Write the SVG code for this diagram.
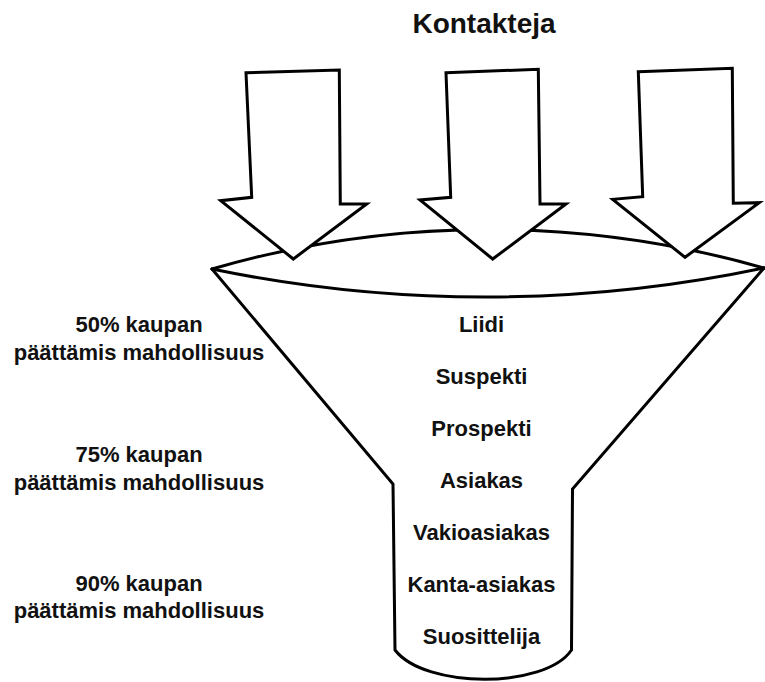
<svg xmlns="http://www.w3.org/2000/svg" width="765" height="682" viewBox="0 0 765 682">
<style>
.ln{fill:none;stroke:#000;stroke-width:3;stroke-linejoin:miter;stroke-linecap:round}
.ar{fill:#fff;stroke:#000;stroke-width:3;stroke-linejoin:miter}
.t{font-family:"Liberation Sans",Arial,sans-serif;font-weight:bold;font-size:22px;fill:#111;text-anchor:middle}
.title{font-size:28px}
</style>
<rect width="765" height="682" fill="#fff"/>
<g id="title"><text class="t title" x="484" y="33">Kontakteja</text></g>
<g id="funnel">
<path class="ln" d="M212,269 L393,484 L395,650 C425,689 545,689 571.5,650 L572.5,489 L764,268"/>
<path class="ln" d="M212,269 A1350 1350 0 0 0 764,268"/>
<path class="ln" d="M212,269 A996 996 0 0 1 764,268"/>
</g>
<g id="connectors">
<polygon id="arrow-1" class="ar" points="246,72.7 339.3,70 340.3,204 366.7,204 293.3,259 220.7,200.7 251.7,197.3"/>
<polygon id="arrow-2" class="ar" points="446,72.7 538.3,69.3 540,204 566,204 492.7,259 420,200 450.7,197.3"/>
<polygon id="arrow-3" class="ar" points="638.3,71.7 732.3,68.3 733.3,203.3 759.3,202.7 685,257.3 612.7,199.3 642.7,196.7"/>
</g>
<g id="stages">
<g id="stage-liidi"><text class="t" x="481.5" y="332">Liidi</text></g>
<g id="stage-suspekti"><text class="t" x="481.5" y="384">Suspekti</text></g>
<g id="stage-prospekti"><text class="t" x="481.5" y="436">Prospekti</text></g>
<g id="stage-asiakas"><text class="t" x="481.5" y="488">Asiakas</text></g>
<g id="stage-vakioasiakas"><text class="t" x="481.5" y="540">Vakioasiakas</text></g>
<g id="stage-kanta-asiakas"><text class="t" x="481.5" y="592">Kanta-asiakas</text></g>
<g id="stage-suosittelija"><text class="t" x="481.5" y="644">Suosittelija</text></g>
</g>
<g id="probabilities">
<g id="prob-50"><text class="t" x="139" y="332">50% kaupan</text><text class="t" x="139" y="360">päättämis mahdollisuus</text></g>
<g id="prob-75"><text class="t" x="139" y="462">75% kaupan</text><text class="t" x="139" y="490">päättämis mahdollisuus</text></g>
<g id="prob-90"><text class="t" x="139" y="591">90% kaupan</text><text class="t" x="139" y="618">päättämis mahdollisuus</text></g>
</g>
</svg>
